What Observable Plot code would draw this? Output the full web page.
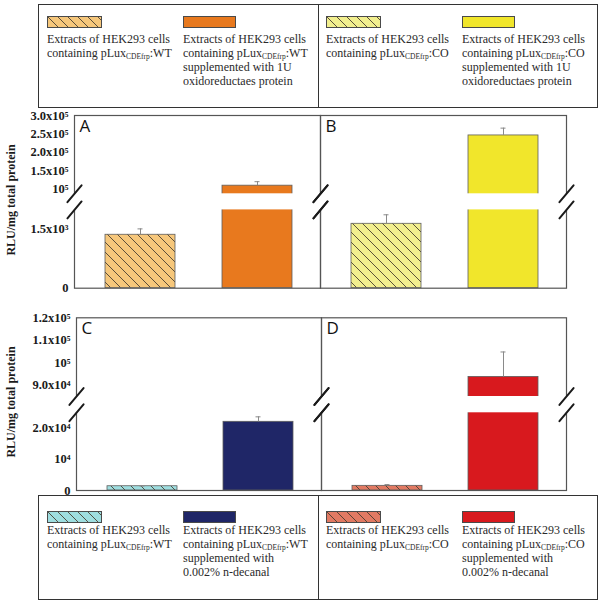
<!DOCTYPE html>
<html><head><meta charset="utf-8">
<script src="https://cdn.jsdelivr.net/npm/d3@7"></script>
<script src="https://cdn.jsdelivr.net/npm/@observablehq/plot@0.6"></script>
<style>
html,body{margin:0;padding:0;background:#fff;}
#page{position:relative;width:603px;height:604px;overflow:hidden;font-family:"Liberation Serif","Times New Roman",serif;color:#2a2a2a;}
.box{position:absolute;border:1.5px solid #333;box-sizing:border-box;}
.vdiv{position:absolute;width:0;border-left:1.5px solid #333;}
.sw{position:absolute;display:block;}
.lt{position:absolute;font-size:12px;line-height:13.5px;white-space:nowrap;color:#2a2a2a;}
.lt sub{font-size:7.5px;vertical-align:baseline;position:relative;top:2px;}
.ytitle{position:absolute;font-weight:bold;font-size:12px;white-space:nowrap;transform:translate(-50%,-50%) rotate(-90deg);color:#1a1a1a;}
.row{position:absolute;left:0;}
</style></head><body>
<svg id="defs" width="0" height="0" style="position:absolute;left:0;top:0"><defs></defs></svg>
<div id="page"></div>
<script>
// ---------------- data ----------------
const panels = ["A", "B", "C", "D"];
const conditions = ["extract", "supplemented"];
const barPanel = ["A", "A", "B", "B", "C", "C", "D", "D"];
const barCondition = ["extract", "supplemented", "extract", "supplemented", "extract", "supplemented", "extract", "supplemented"];
const barSeries = ["A1", "A2", "B1", "B2", "C1", "C2", "D1", "D2"];
const barValues = [1365, 110000, 1645, 246000, 1370, 22100, 1500, 93700];
const barErrors = [150, 10800, 230, 19800, 80, 1600, 400, 11100];

const row1Ticks = [0, 1500, 100000, 150000, 200000, 250000, 300000];
const row1TickLabels = ["0", "1.5x10³", "10⁵", "1.5x10⁵", "2.0x10⁵", "2.5x10⁵", "3.0x10⁵"];
const row2Ticks = [0, 10000, 20000, 90000, 100000, 110000, 120000];
const row2TickLabels = ["0", "10⁴", "2.0x10⁴", "9.0x10⁴", "10⁵", "1.1x10⁵", "1.2x10⁵"];
// broken axis: [bottom, top of lower segment, bottom of upper segment, top]
const row1Domain = [0, 2000, 88000, 300000];
const row2Domain = [0, 25000, 85000, 120000];

const yTitle = "RLU/mg total protein";
const legendTopSeries = ["A1", "A2", "B1", "B2"];
const legendTopLabels = [
  "Extracts of HEK293 cells\ncontaining pLux{CDEfrp}:WT",
  "Extracts of HEK293 cells\ncontaining pLux{CDEfrp}:WT\nsupplemented with 1U\noxidoreductaes protein",
  "Extracts of HEK293 cells\ncontaining pLux{CDEfrp}:CO",
  "Extracts of HEK293 cells\ncontaining pLux{CDEfrp}:CO\nsupplemented with 1U\noxidoreductaes protein"
];
const legendBottomSeries = ["C1", "C2", "D1", "D2"];
const legendBottomLabels = [
  "Extracts of HEK293 cells\ncontaining pLux{CDEfrp}:WT",
  "Extracts of HEK293 cells\ncontaining pLux{CDEfrp}:WT\nsupplemented with\n0.002% n-decanal",
  "Extracts of HEK293 cells\ncontaining pLux{CDEfrp}:CO",
  "Extracts of HEK293 cells\ncontaining pLux{CDEfrp}:CO\nsupplemented with\n0.002% n-decanal"
];

// ---------------- styles ----------------
const hatchBg = {A1: "#F6C77B", B1: "#F2EF8E", C1: "#9EDEE0", D1: "#E27A63"};
const solidFill = {A2: "#E8791E", B2: "#F1E62B", C2: "#1F2667", D2: "#D8191E"};
const seriesFill = {};
const defs = document.querySelector("#defs defs");
for (const [k, c] of Object.entries(hatchBg)) {
  const ns = "http://www.w3.org/2000/svg";
  const p = document.createElementNS(ns, "pattern");
  p.setAttribute("id", "hatch" + k);
  p.setAttribute("patternUnits", "userSpaceOnUse");
  p.setAttribute("width", 10); p.setAttribute("height", 10);
  const r = document.createElementNS(ns, "rect");
  r.setAttribute("width", 10); r.setAttribute("height", 10); r.setAttribute("fill", c);
  const l = document.createElementNS(ns, "path");
  l.setAttribute("d", "M-1,-1L11,11M-1,9L1,11M9,-1L11,1");
  l.setAttribute("stroke", "#4a3f30"); l.setAttribute("stroke-width", "0.9"); l.setAttribute("fill", "none");
  p.appendChild(r); p.appendChild(l); defs.appendChild(p);
  seriesFill[k] = `url(#hatch${k})`;
}
Object.assign(seriesFill, solidFill);

const bars = barSeries.map((s, i) => ({panel: barPanel[i], condition: barCondition[i], series: s, value: barValues[i], error: barErrors[i]}));
const page = document.getElementById("page");
const serif = '"Liberation Serif","Times New Roman",serif';
const slash = {draw(context, l) { context.moveTo(0, 0); context.lineTo(0, -l); }};

// segPx: pixel heights of [lower segment, gap, upper segment]
function rowPlot({rowPanels, ticks, tickLabels, domain, segPx, height, marginTop, marginBottom, marginLeft}) {
  const data = bars.filter(d => rowPanels.includes(d.panel));
  const brk = [{lo: domain[1], hi: domain[2]}];
  const virt = [0, segPx[0], segPx[0] + segPx[1], segPx[0] + segPx[1] + segPx[2]];
  const broken = d3.scaleLinear().domain(domain).range(virt);
  // axis ticks live in the (transformed) scale space
  const tickPos = ticks.map(t => broken(t));
  const labelOf = new Map(tickPos.map((t, i) => [t, tickLabels[i]]));
  const slashOpts = {length: 22, rotate: 40, anchor: "middle", shape: slash, stroke: "#1a1a1a", strokeWidth: 2};
  return Plot.plot({
    width: 603, height, marginTop, marginBottom, marginLeft, marginRight: 37,
    style: {background: "transparent", fontFamily: serif, fontSize: "12.5px", fontWeight: "bold", color: "#1a1a1a", overflow: "visible"},
    fx: {domain: rowPanels, padding: 0, axis: null},
    x: {domain: conditions, paddingInner: 0.4, paddingOuter: 0.25, align: 0.53, axis: null},
    y: {type: "linear", transform: broken, domain: [0, virt[3]], axis: null},
    color: {type: "ordinal", domain: barSeries, range: barSeries.map(s => seriesFill[s])},
    marks: [
      Plot.barY(data, {fx: "panel", x: "condition", y1: 0, y2: "value", fill: "series", stroke: "#5e5e5e", strokeWidth: 0.8}),
      Plot.ruleX(data, {fx: "panel", x: "condition", y1: "value", y2: d => d.value + d.error, stroke: "#8a8a8a", strokeWidth: 1}),
      Plot.tickY(data, {fx: "panel", x: "condition", y: d => d.value + d.error, stroke: "#8a8a8a", strokeWidth: 1, insetLeft: 32.5, insetRight: 32.5}),
      Plot.frame({stroke: "#555", strokeWidth: 1.2}),
      Plot.rect(brk, {y1: "lo", y2: "hi", fill: "white", insetLeft: -3, insetRight: -3}),
      Plot.vector(brk, {y: "lo", frameAnchor: "left", ...slashOpts}),
      Plot.vector(brk, {y: "hi", frameAnchor: "left", ...slashOpts}),
      Plot.vector(brk, {y: "lo", frameAnchor: "right", ...slashOpts}),
      Plot.vector(brk, {y: "hi", frameAnchor: "right", ...slashOpts}),
      Plot.axisY({ticks: tickPos, tickFormat: d => labelOf.get(d), tickSize: 0, tickPadding: 6, label: null}),
      Plot.text(rowPanels, {fx: d => d, text: d => d, frameAnchor: "top-left", textAnchor: "start", lineAnchor: "top", dx: 5, dy: 4, fontSize: 17, fontFamily: '"Open Sans",sans-serif', fontWeight: "normal", fill: "#111"})
    ]
  });
}

// row 1 (A, B): frame 115..287.7
const r1Top = 108;
const r1 = rowPlot({rowPanels: ["A", "B"], ticks: row1Ticks, tickLabels: row1TickLabels, domain: row1Domain,
  segPx: [287.7 - 209.4, 209.4 - 193.3, 193.3 - 115], height: 188, marginTop: 115 - r1Top, marginBottom: 188 - (287.7 - r1Top), marginLeft: 73});
r1.classList.add("row"); r1.style.top = r1Top + "px";
page.appendChild(r1);

// row 2 (C, D): frame 317.3..490
const r2Top = 305;
const r2 = rowPlot({rowPanels: ["C", "D"], ticks: row2Ticks, tickLabels: row2TickLabels, domain: row2Domain,
  segPx: [490 - 412.3, 412.3 - 396, 396 - 317.3], height: 193, marginTop: 317.3 - r2Top, marginBottom: 193 - (490 - r2Top), marginLeft: 76});
r2.classList.add("row"); r2.style.top = r2Top + "px";
page.appendChild(r2);

// y titles
for (const cy of [200, 402]) {
  const t = document.createElement("div");
  t.className = "ytitle"; t.textContent = yTitle;
  t.style.left = "11px"; t.style.top = cy + "px";
  page.appendChild(t);
}

// legends
function legend(series, labels, {top, height, swTop, textTop}) {
  const box = document.createElement("div");
  box.className = "box";
  Object.assign(box.style, {left: "38px", top: top + "px", width: "560px", height: height + "px"});
  page.appendChild(box);
  const dv = document.createElement("div");
  dv.className = "vdiv";
  Object.assign(dv.style, {left: "317.5px", top: top + "px", height: height + "px"});
  page.appendChild(dv);
  const xs = [47, 183, 326, 462];
  const ws = [55, 53, 55, 53];
  series.forEach((s, i) => {
    const sw = document.createElementNS("http://www.w3.org/2000/svg", "svg");
    sw.setAttribute("class", "sw");
    sw.setAttribute("width", ws[i]); sw.setAttribute("height", 12);
    sw.style.left = xs[i] + "px"; sw.style.top = swTop + "px";
    const r = document.createElementNS("http://www.w3.org/2000/svg", "rect");
    r.setAttribute("x", 0.5); r.setAttribute("y", 0.5); r.setAttribute("width", ws[i] - 1); r.setAttribute("height", 11);
    r.setAttribute("fill", seriesFill[s]); r.setAttribute("stroke", "#4a4a4a"); r.setAttribute("stroke-width", 1);
    sw.appendChild(r);
    page.appendChild(sw);
    const t = document.createElement("div");
    t.className = "lt";
    t.style.left = xs[i] + "px"; t.style.top = textTop + "px";
    t.innerHTML = labels[i].split("\n").map(line => line.replace(/\{(.*?)\}/g, "<sub>$1</sub>")).join("<br>");
    page.appendChild(t);
  });
}
legend(legendTopSeries, legendTopLabels, {top: 3.5, height: 104.5, swTop: 16, textTop: 33});
legend(legendBottomSeries, legendBottomLabels, {top: 495, height: 105, swTop: 511, textTop: 524});
</script>
</body></html>
